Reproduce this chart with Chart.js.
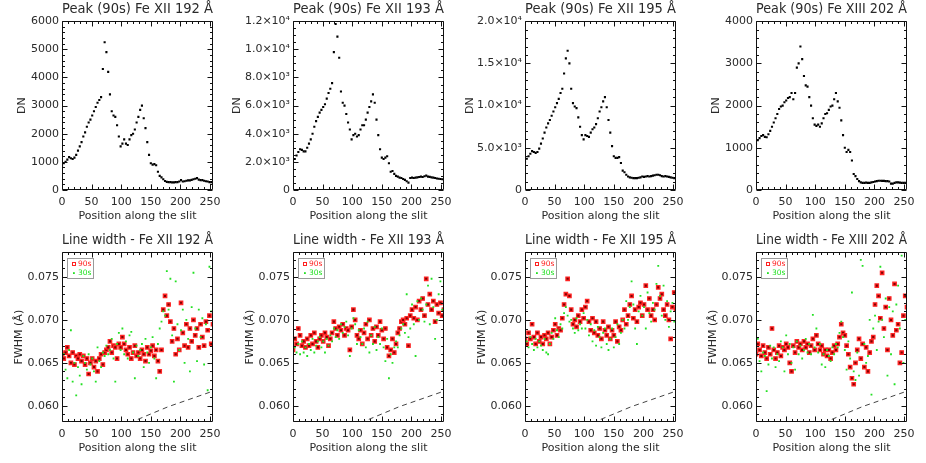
<!DOCTYPE html>
<html>
<head>
<meta charset="utf-8">
<title>Peak and line width along the slit</title>
<script src="https://cdn.jsdelivr.net/npm/chart.js@4.4.1/dist/chart.umd.min.js"></script>
<style>
  html, body { margin: 0; padding: 0; background: #fff; }
  #wrap { position: relative; width: 926px; height: 463px; overflow: hidden; }
  #wrap canvas { position: absolute; }
</style>
</head>
<body>
<div id="wrap"></div>
<script>
// slit pixel positions (every 3rd pixel)
const slitPos = [0,3,6,9,12,15,18,21,24,27,30,33,36,39,42,45,48,51,54,57,60,63,66,69,72,75,78,81,84,87,
  90,93,96,99,102,105,108,111,114,117,120,123,126,129,132,135,138,141,144,147,150,153,156,159,162,165,168,171,174,177,
  180,183,186,189,192,195,198,201,204,207,210,213,216,219,222,225,228,231,234,237,240,243,246,249,252,255];

const lineNames = ['Fe XII 192 Å', 'Fe XII 193 Å', 'Fe XII 195 Å', 'Fe XIII 202 Å'];
const seriesLabels = ['90s', '30s'];

// peak intensity (DN), 90s exposure
const peak192 = [850,950,1000,1080,1170,1130,1100,1150,1250,1400,
  1550,1700,1900,2050,2250,2400,2500,2650,2800,2950,
  3100,3200,3300,4300,5250,4900,4200,3400,2800,2650,
  2600,2300,1900,1550,1650,1800,1650,1600,1800,1950,
  2000,2150,2400,2600,2850,3000,2550,2200,1700,1250,
  950,900,920,880,650,500,450,380,320,290,
  280,280,270,270,280,280,300,350,300,310,
  330,340,340,360,380,400,420,370,350,350,
  330,310,300,280,280,260];
const peak193 = [2000,2200,2450,2700,2900,2850,2750,2750,3000,3300,
  3600,4000,4500,4900,5200,5500,5700,5900,6100,6500,
  6900,7200,7600,9800,11800,10900,9400,7000,6200,6000,
  5400,4800,4300,3600,3900,4000,3800,3900,4300,4600,
  4600,5000,5500,5900,6300,6800,6200,5000,3900,2900,
  2300,2200,2300,2400,1900,1300,1350,1150,1000,950,
  880,850,780,720,620,520,850,880,850,880,
  900,920,950,920,980,1020,950,930,900,880,
  850,820,800,780,760,720];
const peak195 = [3300,3700,4000,4300,4600,4500,4400,4500,4900,5500,
  6100,6800,7400,7900,8300,8800,9300,9800,10300,10800,
  11500,12000,13800,15600,16500,15000,12000,10300,9900,9700,
  8600,7500,6500,6000,6500,6400,6300,6800,7200,7400,
  7800,8500,9300,9800,10500,11000,9800,8300,6800,5200,
  4000,3800,3800,3900,3200,2300,2100,1800,1600,1500,
  1450,1400,1400,1400,1450,1500,1600,1550,1600,1650,
  1600,1650,1700,1750,1800,1800,1750,1650,1600,1650,
  1600,1550,1500,1450,1400,1400];
const peak202 = [1100,1180,1230,1280,1300,1260,1250,1320,1400,1500,
  1600,1700,1800,1920,1980,2000,2080,2120,2180,2200,
  2300,2150,2300,2900,3000,3400,3100,2700,2480,2450,
  2200,2000,1700,1550,1520,1550,1500,1580,1700,1800,
  1820,1900,1980,2000,2150,2300,2100,1950,1650,1300,
  1000,900,950,900,700,380,330,260,210,180,
  170,170,175,170,170,180,190,200,210,220,
  220,215,215,210,210,200,150,150,170,180,
  180,175,170,170,170,165];

// line width FWHM (Å)
const fwhm192_90s = [0.0660,0.0655,0.0662,0.0668,0.0658,0.0650,0.0662,0.0648,0.0658,0.0655,
  0.0660,0.0652,0.0658,0.0648,0.0655,0.0637,0.0650,0.0655,0.0645,0.0652,
  0.0640,0.0655,0.0660,0.0648,0.0662,0.0665,0.0668,0.0675,0.0662,0.0670,
  0.0668,0.0655,0.0672,0.0668,0.0680,0.0672,0.0665,0.0660,0.0668,0.0655,
  0.0662,0.0670,0.0658,0.0662,0.0655,0.0665,0.0660,0.0652,0.0668,0.0660,
  0.0664,0.0670,0.0658,0.0665,0.0652,0.0640,0.0665,0.0712,0.0728,0.0705,
  0.0718,0.0698,0.0675,0.0690,0.0660,0.0678,0.0665,0.0720,0.0685,0.0670,
  0.0695,0.0668,0.0690,0.0675,0.0700,0.0682,0.0690,0.0668,0.0695,0.0680,
  0.0670,0.0698,0.0688,0.0705,0.0672,0.0695];
const fwhm192_30s = [0.0652,0.0660,0.0642,0.0632,0.0665,0.0688,0.0628,0.0650,0.0612,0.0645,
  0.0635,0.0625,0.0658,0.0650,0.0642,0.0660,0.0648,0.0655,0.0640,0.0628,
  0.0668,0.0652,0.0645,0.0662,0.0658,0.0670,0.0660,0.0665,0.0678,0.0655,
  0.0628,0.0672,0.0685,0.0665,0.0690,0.0660,0.0675,0.0655,0.0682,0.0686,
  0.0662,0.0632,0.0670,0.0658,0.0665,0.0672,0.0645,0.0678,0.0662,0.0650,
  0.0668,0.0680,0.0655,0.0632,0.0672,0.0690,0.0698,0.0710,0.0705,0.0757,
  0.0712,0.0748,0.0682,0.0628,0.0745,0.0695,0.0665,0.0688,0.0712,0.0650,
  0.0700,0.0678,0.0640,0.0715,0.0755,0.0690,0.0652,0.0712,0.0680,0.0702,
  0.0648,0.0695,0.0618,0.0762,0.0710,0.0660];
const fwhm193_90s = [0.0665,0.0678,0.0672,0.0690,0.0682,0.0670,0.0675,0.0668,0.0678,0.0670,
  0.0682,0.0672,0.0685,0.0675,0.0668,0.0678,0.0682,0.0675,0.0685,0.0680,
  0.0670,0.0678,0.0685,0.0698,0.0690,0.0682,0.0692,0.0688,0.0695,0.0682,
  0.0690,0.0688,0.0665,0.0692,0.0712,0.0700,0.0682,0.0678,0.0688,0.0672,
  0.0685,0.0695,0.0678,0.0700,0.0682,0.0690,0.0675,0.0692,0.0682,0.0698,
  0.0688,0.0678,0.0690,0.0668,0.0658,0.0665,0.0678,0.0662,0.0672,0.0685,
  0.0690,0.0698,0.0700,0.0695,0.0702,0.0670,0.0705,0.0712,0.0702,0.0715,
  0.0700,0.0722,0.0712,0.0725,0.0705,0.0748,0.0718,0.0730,0.0712,0.0722,
  0.0698,0.0718,0.0708,0.0720,0.0705,0.0712];
const fwhm193_30s = [0.0658,0.0668,0.0662,0.0672,0.0660,0.0675,0.0662,0.0668,0.0658,0.0672,
  0.0665,0.0678,0.0662,0.0670,0.0675,0.0680,0.0668,0.0675,0.0662,0.0678,
  0.0670,0.0682,0.0675,0.0690,0.0680,0.0688,0.0678,0.0695,0.0685,0.0692,
  0.0698,0.0682,0.0658,0.0690,0.0702,0.0695,0.0672,0.0688,0.0680,0.0672,
  0.0690,0.0668,0.0698,0.0662,0.0682,0.0672,0.0692,0.0665,0.0680,0.0672,
  0.0690,0.0668,0.0652,0.0678,0.0632,0.0660,0.0650,0.0668,0.0675,0.0668,
  0.0682,0.0690,0.0695,0.0685,0.0730,0.0680,0.0690,0.0718,0.0695,0.0658,
  0.0722,0.0700,0.0725,0.0712,0.0698,0.0718,0.0740,0.0695,0.0748,0.0715,
  0.0678,0.0700,0.0730,0.0745,0.0712,0.0702];
const fwhm195_90s = [0.0678,0.0672,0.0685,0.0678,0.0695,0.0680,0.0672,0.0685,0.0675,0.0680,
  0.0672,0.0682,0.0678,0.0685,0.0672,0.0680,0.0688,0.0695,0.0682,0.0690,
  0.0688,0.0702,0.0718,0.0730,0.0748,0.0728,0.0712,0.0695,0.0700,0.0692,
  0.0705,0.0698,0.0712,0.0702,0.0715,0.0722,0.0698,0.0688,0.0702,0.0685,
  0.0698,0.0682,0.0690,0.0678,0.0698,0.0688,0.0682,0.0692,0.0678,0.0688,
  0.0682,0.0698,0.0675,0.0692,0.0688,0.0700,0.0712,0.0695,0.0705,0.0718,
  0.0728,0.0702,0.0712,0.0698,0.0715,0.0720,0.0705,0.0718,0.0740,0.0712,
  0.0725,0.0705,0.0712,0.0700,0.0718,0.0738,0.0725,0.0730,0.0712,0.0705,
  0.0718,0.0700,0.0678,0.0715,0.0732,0.0712];
const fwhm195_30s = [0.0662,0.0675,0.0668,0.0680,0.0672,0.0665,0.0678,0.0668,0.0675,0.0670,
  0.0665,0.0678,0.0662,0.0660,0.0672,0.0685,0.0678,0.0702,0.0688,0.0680,
  0.0695,0.0690,0.0708,0.0715,0.0705,0.0698,0.0700,0.0690,0.0685,0.0702,
  0.0688,0.0695,0.0690,0.0708,0.0690,0.0700,0.0682,0.0695,0.0675,0.0688,
  0.0670,0.0692,0.0680,0.0668,0.0685,0.0690,0.0672,0.0665,0.0678,0.0690,
  0.0668,0.0680,0.0695,0.0672,0.0685,0.0700,0.0690,0.0722,0.0700,0.0715,
  0.0745,0.0718,0.0690,0.0672,0.0710,0.0728,0.0705,0.0715,0.0690,0.0732,
  0.0708,0.0698,0.0720,0.0712,0.0742,0.0763,0.0728,0.0705,0.0740,0.0700,
  0.0722,0.0692,0.0710,0.0720,0.0698,0.0752];
const fwhm202_90s = [0.0660,0.0672,0.0665,0.0658,0.0670,0.0662,0.0655,0.0668,0.0660,0.0690,
  0.0665,0.0655,0.0662,0.0670,0.0658,0.0668,0.0665,0.0672,0.0668,0.0650,
  0.0640,0.0670,0.0662,0.0675,0.0668,0.0672,0.0665,0.0675,0.0668,0.0672,
  0.0662,0.0670,0.0678,0.0665,0.0682,0.0672,0.0665,0.0670,0.0660,0.0665,
  0.0658,0.0665,0.0655,0.0662,0.0670,0.0665,0.0672,0.0680,0.0695,0.0685,
  0.0682,0.0670,0.0660,0.0645,0.0632,0.0625,0.0650,0.0665,0.0678,0.0655,
  0.0672,0.0645,0.0668,0.0640,0.0662,0.0675,0.0680,0.0718,0.0740,0.0728,
  0.0702,0.0755,0.0690,0.0715,0.0665,0.0725,0.0700,0.0682,0.0742,0.0688,
  0.0695,0.0650,0.0662,0.0705,0.0728,0.0715];
const fwhm202_30s = [0.0665,0.0678,0.0652,0.0640,0.0662,0.0658,0.0617,0.0648,0.0670,0.0655,
  0.0668,0.0645,0.0660,0.0652,0.0675,0.0668,0.0640,0.0682,0.0660,0.0672,
  0.0650,0.0668,0.0642,0.0675,0.0660,0.0670,0.0655,0.0665,0.0678,0.0662,
  0.0672,0.0660,0.0706,0.0668,0.0690,0.0662,0.0672,0.0648,0.0660,0.0645,
  0.0665,0.0658,0.0652,0.0668,0.0660,0.0672,0.0668,0.0685,0.0698,0.0680,
  0.0665,0.0642,0.0675,0.0655,0.0732,0.0640,0.0630,0.0662,0.0635,0.0770,
  0.0763,0.0672,0.0650,0.0658,0.0700,0.0613,0.0690,0.0705,0.0665,0.0698,
  0.0762,0.0700,0.0680,0.0725,0.0635,0.0715,0.0660,0.0710,0.0625,0.0718,
  0.0740,0.0690,0.0775,0.0650,0.0700,0.0720];

// dashed reference curve in the width panels
const dashPos = [100, 180, 255];
const dashFwhm = [0.0576, 0.0599, 0.0617];

// tick labels
const xTicks = ['0', '50', '100', '150', '200', '250'];
const ticks192 = ['0', '1000', '2000', '3000', '4000', '5000', '6000'];
const ticks193 = ['0', '2.0×10³', '4.0×10³', '6.0×10³', '8.0×10³', '1.0×10⁴', '1.2×10⁴'];
const ticks195 = ['0', '5.0×10³', '1.0×10⁴', '1.5×10⁴', '2.0×10⁴'];
const ticks202 = ['0', '1000', '2000', '3000', '4000'];
const fwhmTicks = ['0.060', '0.065', '0.070', '0.075'];

Chart.defaults.font.family = "'DejaVu Sans', sans-serif";
Chart.defaults.color = '#2a2a2a';
Chart.defaults.animation = false;

// box frame with inward major/minor ticks on all four sides
const idlFrame = {
  id: 'idlFrame',
  afterDatasetsDraw(chart, args, o) {
    const { ctx, chartArea: a } = chart;
    const xs = chart.scales.x, ys = chart.scales.y;
    const L = Math.round(a.left) + 0.5, R = Math.round(a.right) - 0.5;
    const T = Math.round(a.top) + 0.5, B = Math.round(a.bottom) - 0.5;
    ctx.save();
    ctx.strokeStyle = '#111';
    ctx.lineWidth = 1;
    ctx.beginPath();
    ctx.rect(L, T, R - L, B - T);
    const nx = Math.round(o.xMajor / o.xMinor);
    for (let k = Math.ceil(xs.min / o.xMinor - 1e-6); k * o.xMinor <= xs.max + 1e-9; k++) {
      const px = Math.round(xs.getPixelForValue(k * o.xMinor)) + 0.5;
      const len = k % nx === 0 ? 5 : 2.5;
      ctx.moveTo(px, B); ctx.lineTo(px, B - len);
      ctx.moveTo(px, T); ctx.lineTo(px, T + len);
    }
    const ny = Math.round(o.yMajor / o.yMinor);
    for (let k = Math.ceil(ys.min / o.yMinor - 1e-6); k * o.yMinor <= ys.max * (1 + 1e-9); k++) {
      const py = Math.round(ys.getPixelForValue(k * o.yMinor)) + 0.5;
      const len = k % ny === 0 ? 5 : 2.5;
      ctx.moveTo(L, py); ctx.lineTo(L + len, py);
      ctx.moveTo(R, py); ctx.lineTo(R - len, py);
    }
    ctx.stroke();
    ctx.restore();
  }
};

// small boxed legend in the top-left corner of the width panels
const boxLegend = {
  id: 'boxLegend',
  afterDatasetsDraw(chart, args, o) {
    if (!o.items) return;
    const { ctx, chartArea: a } = chart;
    const x0 = Math.round(a.left) + 5.5, y0 = Math.round(a.top) + 6.5;
    ctx.save();
    ctx.strokeStyle = '#9a9a9a';
    ctx.lineWidth = 1;
    ctx.strokeRect(x0, y0, 26, 20);
    ctx.font = "7.5px 'DejaVu Sans', sans-serif";
    ctx.textBaseline = 'middle';
    o.items.forEach((it, i) => {
      const cy = y0 + 5.5 + i * 9;
      if (it.square) {
        ctx.strokeStyle = it.color;
        ctx.lineWidth = 1;
        ctx.strokeRect(x0 + 5, cy - 1.5, 3, 3);
      } else {
        ctx.fillStyle = it.color;
        ctx.fillRect(x0 + 5.5, cy - 0.8, 1.8, 1.8);
      }
      ctx.fillStyle = it.color;
      ctx.fillText(it.text, x0 + 10.5, cy);
    });
    ctx.restore();
  }
};

const wrap = document.getElementById('wrap');
const colLeft = [0, 231, 463, 694];

function addCanvas(left, top, w, h) {
  const c = document.createElement('canvas');
  c.width = w; c.height = h;
  c.style.left = left + 'px'; c.style.top = top + 'px';
  c.style.width = w + 'px'; c.style.height = h + 'px';
  wrap.appendChild(c);
  return c;
}

function xAxis() {
  return {
    type: 'linear', min: 0, max: 255,
    grid: { display: false, drawTicks: false }, border: { display: false },
    ticks: { stepSize: 50, includeBounds: false, autoSkip: false, maxRotation: 0,
      padding: 6, font: { size: 11 }, callback: (v, i) => xTicks[i] },
    title: { display: true, text: 'Position along the slit', font: { size: 11 },
      padding: { top: 0, bottom: 0 } },
    afterFit: s => { s.height = 32.6; }
  };
}

function yAxis(min, max, step, labels, text, pad) {
  return {
    type: 'linear', min, max,
    grid: { display: false, drawTicks: false }, border: { display: false },
    ticks: { stepSize: step, includeBounds: false, autoSkip: false,
      padding: 3, font: { size: 11 }, callback: (v, i) => labels[i] },
    title: { display: true, text, font: { size: 11 }, padding: { top: pad, bottom: 0 } },
    afterFit: s => { s.width = 62; }
  };
}

const topPanels = [
  { values: peak192, max: 6000, step: 1000, minor: 200, labels: ticks192, pad: 15.4 },
  { values: peak193, max: 12000, step: 2000, minor: 500, labels: ticks193, pad: 0 },
  { values: peak195, max: 20000, step: 5000, minor: 1000, labels: ticks195, pad: 0.6 },
  { values: peak202, max: 4000, step: 1000, minor: 200, labels: ticks202, pad: 15.4 }
];
const widthPanels = [
  { w90: fwhm192_90s, w30: fwhm192_30s },
  { w90: fwhm193_90s, w30: fwhm193_30s },
  { w90: fwhm195_90s, w30: fwhm195_30s },
  { w90: fwhm202_90s, w30: fwhm202_30s }
];

topPanels.forEach((p, c) => {
  new Chart(addCanvas(colLeft[c], 0, 231, 231), {
    type: 'scatter',
    data: {
      datasets: [{
        data: slitPos.map((x, i) => ({ x, y: p.values[i] })),
        pointStyle: 'rect', pointRadius: 1.5, pointBackgroundColor: '#000',
        pointBorderWidth: 0, showLine: false
      }]
    },
    options: {
      responsive: false, animation: false,
      layout: { padding: { top: 1.2, right: 18, bottom: 8.4, left: 0 } },
      scales: { x: xAxis(), y: yAxis(0, p.max, p.step, p.labels, 'DN', p.pad) },
      plugins: {
        legend: { display: false }, tooltip: { enabled: false },
        title: { display: true, text: 'Peak (90s) ' + lineNames[c], fullSize: false,
          font: { size: 13.5, weight: 'normal' }, padding: { top: 0, bottom: 3.8 } },
        idlFrame: { xMajor: 50, xMinor: 10, yMajor: p.step, yMinor: p.minor }
      }
    },
    plugins: [idlFrame]
  });
});

widthPanels.forEach((p, c) => {
  new Chart(addCanvas(colLeft[c], 231, 231, 232), {
    type: 'scatter',
    data: {
      datasets: [
        { label: seriesLabels[1], data: slitPos.map((x, i) => ({ x, y: p.w30[i] })),
          pointStyle: 'rect', pointRadius: 1.3, pointBackgroundColor: '#22e022', pointBorderWidth: 0 },
        { label: seriesLabels[0], data: slitPos.map((x, i) => ({ x, y: p.w90[i] })),
          pointStyle: 'rect', pointRadius: 2.4, pointBackgroundColor: '#800000',
          pointBorderColor: '#ff2424', pointBorderWidth: 1.3 },
        { data: dashPos.map((x, i) => ({ x, y: dashFwhm[i] })), showLine: true,
          borderColor: '#444', borderWidth: 1, borderDash: [5, 4], pointRadius: 0 }
      ]
    },
    options: {
      responsive: false, animation: false,
      layout: { padding: { top: 1.7, right: 18, bottom: 8.4, left: 0 } },
      scales: { x: xAxis(), y: yAxis(0.0581, 0.0779, 0.005, fwhmTicks, 'FWHM (Å)', 12.4) },
      plugins: {
        legend: { display: false }, tooltip: { enabled: false },
        title: { display: true, text: 'Line width - ' + lineNames[c], fullSize: false,
          font: { size: 13.5, weight: 'normal' }, padding: { top: 0, bottom: 3.3 } },
        idlFrame: { xMajor: 50, xMinor: 10, yMajor: 0.005, yMinor: 0.001 },
        boxLegend: { items: [
          { text: seriesLabels[0], color: '#ff2020', square: true },
          { text: seriesLabels[1], color: '#22e022', square: false }
        ] }
      }
    },
    plugins: [idlFrame, boxLegend]
  });
});
</script>
</body>
</html>
